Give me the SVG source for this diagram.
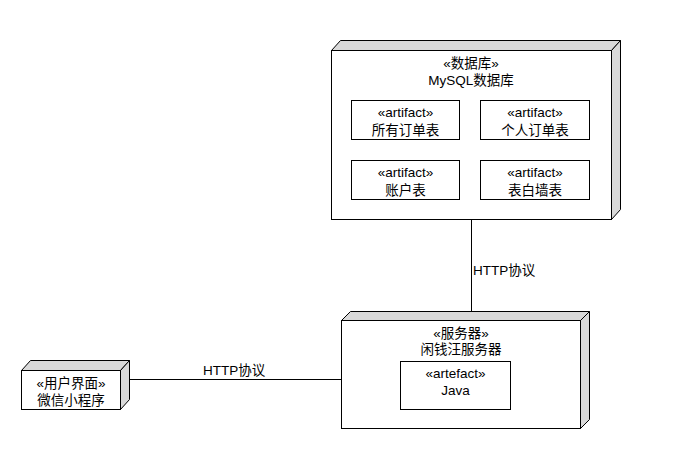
<svg xmlns="http://www.w3.org/2000/svg" width="688" height="450" viewBox="0 0 688 450">
<style>
.face{fill:#ffffff;stroke:#000;stroke-width:1}
.side{fill:#d9d9d9;stroke:#000;stroke-width:1;stroke-linejoin:miter}
.box{fill:#ffffff;stroke:#000;stroke-width:1}
.t{font-family:"Liberation Sans","Noto Sans CJK SC",sans-serif;font-size:13.5px;fill:#000;text-anchor:middle}
.l{font-family:"Liberation Sans","Noto Sans CJK SC",sans-serif;font-size:13.5px;fill:#000}
.conn{stroke:#000;stroke-width:1;fill:none}
</style>
<rect width="688" height="450" fill="#ffffff"/>
<g id="connectors">
<line class="conn" x1="471.5" y1="219" x2="471.5" y2="311"/>
<text class="l" x="473" y="275">HTTP协议</text>
<line class="conn" x1="130" y1="379.5" x2="341" y2="379.5"/>
<text class="l" x="203" y="375">HTTP协议</text>
</g>
<g id="db">
<polygon class="side" points="331.5,50.5 340.5,40.5 620.5,40.5 611.5,50.5"/>
<polygon class="side" points="611.5,50.5 620.5,40.5 620.5,209.5 611.5,219.5"/>
<rect class="face" x="331.5" y="50.5" width="280" height="169"/>
<text class="t" x="471" y="68">«数据库»</text>
<text class="t" x="471" y="85">MySQL数据库</text>
<g id="a1"><rect class="box" x="351.5" y="100.5" width="108" height="39"/>
<text class="t" x="405.5" y="117">«artifact»</text><text class="t" x="405.5" y="135">所有订单表</text></g>
<g id="a2"><rect class="box" x="480.5" y="100.5" width="109" height="39"/>
<text class="t" x="535" y="117">«artifact»</text><text class="t" x="535" y="135">个人订单表</text></g>
<g id="a3"><rect class="box" x="351.5" y="160.5" width="108" height="39"/>
<text class="t" x="405.5" y="177">«artifact»</text><text class="t" x="405.5" y="195">账户表</text></g>
<g id="a4"><rect class="box" x="480.5" y="160.5" width="109" height="39"/>
<text class="t" x="535" y="177">«artifact»</text><text class="t" x="535" y="195">表白墙表</text></g>
</g>
<g id="server">
<polygon class="side" points="341.5,320.5 350.5,311.5 589.5,311.5 580.5,320.5"/>
<polygon class="side" points="580.5,320.5 589.5,311.5 589.5,419.5 580.5,428.5"/>
<rect class="face" x="341.5" y="320.5" width="239" height="108"/>
<text class="t" x="461" y="338">«服务器»</text>
<text class="t" x="461" y="354">闲钱汪服务器</text>
<g id="java"><rect class="box" x="400.5" y="361.5" width="110" height="48"/>
<text class="t" x="455.5" y="378">«artefact»</text><text class="t" x="455.5" y="395">Java</text></g>
</g>
<g id="ui">
<polygon class="side" points="21.5,370.5 30.5,360.5 129.5,360.5 120.5,370.5"/>
<polygon class="side" points="120.5,370.5 129.5,360.5 129.5,399.5 120.5,409.5"/>
<rect class="face" x="21.5" y="370.5" width="99" height="39"/>
<text class="t" x="71" y="388">«用户界面»</text>
<text class="t" x="71" y="405">微信小程序</text>
</g>
</svg>
